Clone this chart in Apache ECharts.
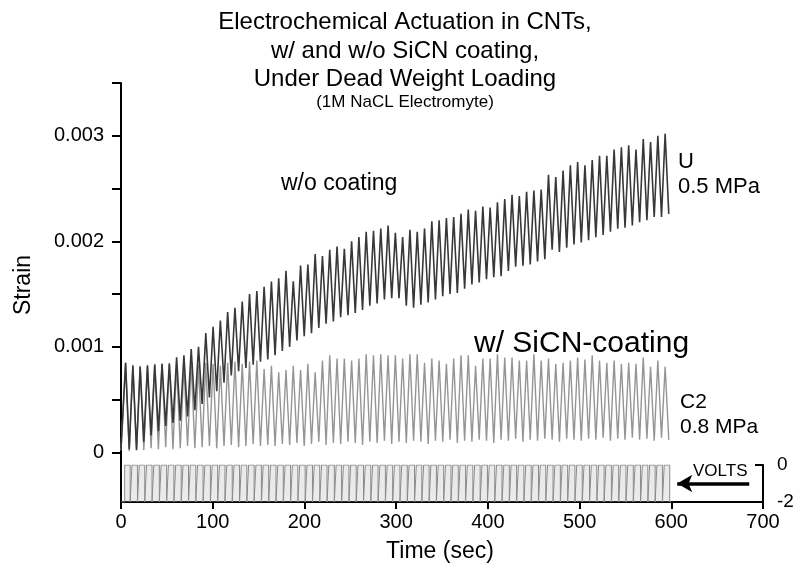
<!DOCTYPE html>
<html>
<head>
<meta charset="utf-8">
<script src="https://cdn.jsdelivr.net/npm/echarts@6/dist/echarts.min.js"></script>
<style>
  html, body { margin: 0; background: #fff; }
  #chart { width: 797px; height: 575px; }
</style>
</head>
<body>
<div id="chart"></div>
<script>
// timing of the actuation cycles (sec)
const period = 7.95;
const firstPeak = 5;
const endTime = 600;

// U, 0.5 MPa (w/o coating): peak and trough strain of each cycle
const uStart = 0.00003;
const uPeak = [
  0.00085, 0.00082, 0.00081, 0.00082, 0.00083, 0.00084, 0.00084, 0.0009, 0.00092, 0.00098,
  0.001, 0.00113, 0.00119, 0.00125, 0.00133, 0.00137, 0.00143, 0.0015, 0.00153, 0.00157,
  0.00162, 0.00165, 0.00172, 0.00162, 0.00177, 0.00178, 0.00188, 0.00186, 0.00192, 0.00195,
  0.00193, 0.002, 0.00204, 0.00209, 0.0021, 0.00212, 0.00215, 0.00208, 0.00204, 0.00211,
  0.00209, 0.00212, 0.00219, 0.0022, 0.00222, 0.00223, 0.00226, 0.0023, 0.00229, 0.00233,
  0.00232, 0.00237, 0.0024, 0.00244, 0.00243, 0.00247, 0.00248, 0.00249, 0.00263, 0.00261,
  0.00267, 0.00272, 0.00275, 0.00272, 0.00277, 0.00281, 0.00281, 0.00287, 0.00289, 0.00291,
  0.00287, 0.00297, 0.00294, 0.003, 0.00302
];
const uTrough = [
  0.00003, 0.00002, 0.0001, 0.00016, 0.0002, 0.00025, 0.00028, 0.0003, 0.00034, 0.0004,
  0.00046, 0.00052, 0.00058, 0.00066, 0.00073, 0.00077, 0.0008, 0.00083, 0.00086, 0.00088,
  0.00092, 0.00096, 0.001, 0.00106, 0.0011, 0.00113, 0.00118, 0.00122, 0.00124, 0.00128,
  0.0013, 0.00132, 0.00135, 0.00139, 0.00141, 0.00145, 0.00146, 0.00146, 0.00139, 0.00137,
  0.0014, 0.00142, 0.00145, 0.00148, 0.0015, 0.00151, 0.00155, 0.00159, 0.00161, 0.00164,
  0.00166, 0.00167, 0.00172, 0.00176, 0.00177, 0.00178, 0.00181, 0.00183, 0.00192, 0.0019,
  0.00194, 0.00197, 0.00199, 0.00201, 0.00204, 0.00206, 0.00209, 0.00212, 0.00213, 0.00215,
  0.00218, 0.0022, 0.00223, 0.00223, 0.00226
];

// C2, 0.8 MPa (w/ SiCN coating)
const c2Start = 0.00002;
const c2Peak = [
  0.00085, 0.00083, 0.00082, 0.00083, 0.00084, 0.00084, 0.00085, 0.00083, 0.00082, 0.00084,
  0.00083, 0.00085, 0.00084, 0.00082, 0.00085, 0.00086, 0.00084, 0.00086, 0.00087, 0.00079,
  0.00082, 0.00076, 0.00078, 0.00082, 0.00078, 0.00084, 0.00076, 0.00087, 0.00092, 0.00089,
  0.00089, 0.00087, 0.00089, 0.00093, 0.00092, 0.00093, 0.00092, 0.00092, 0.00089, 0.00093,
  0.00093, 0.00085, 0.00089, 0.00087, 0.00084, 0.00089, 0.00092, 0.00092, 0.00082, 0.00089,
  0.00089, 0.00093, 0.0009, 0.0009, 0.00087, 0.00087, 0.00093, 0.00087, 0.00089, 0.00084,
  0.00085, 0.00087, 0.0009, 0.00088, 0.00092, 0.00087, 0.00085, 0.00087, 0.00084, 0.00085,
  0.00084, 0.0009, 0.00081, 0.00087, 0.00081
];
const c2Trough = [
  0.00001, 0.00003, 0.00002, 0.00004, 0.00003, 0.00005, 0.00003, 0.00004, 0.00006, 0.00004,
  0.00005, 0.00006, 0.00004, 0.00006, 0.00007, 0.00005, 0.00006, 0.00008, 0.00006, 0.00007,
  0.00006, 0.00008, 0.00007, 0.00009, 0.00006, 0.00008, 0.0001, 0.00007, 0.00009, 0.00008,
  0.0001, 0.00009, 0.00007, 0.0001, 0.00009, 0.00011, 0.00008, 0.0001, 0.00009, 0.00011,
  0.0001, 0.00008, 0.00011, 0.0001, 0.00012, 0.00009, 0.00011, 0.0001, 0.00012, 0.00011,
  0.00009, 0.00012, 0.00011, 0.00013, 0.0001, 0.00012, 0.00011, 0.00013, 0.00012, 0.0001,
  0.00013, 0.00012, 0.00011, 0.00013, 0.00012, 0.00014, 0.00011, 0.00013, 0.00012, 0.00014,
  0.00012, 0.00013, 0.00011, 0.00014, 0.00012
];

// applied voltage levels (V) and on-time in each cycle (sec)
const voltsOn = 0;
const voltsOff = -2;
const onTime = 6;

// axis ticks
const strainTicks = [0, 0.0005, 0.001, 0.0015, 0.002, 0.0025, 0.003, 0.0035];
const strainLabels = [0, 0.001, 0.002, 0.003];

// build the traces (peak, then the trough half a cycle later)
function cycleLine(start, peaks, troughs) {
  const pts = [[0, start]];
  peaks.forEach((p, k) => {
    const tp = firstPeak + k * period;
    pts.push([tp, p]);
    pts.push([Math.min(tp + period / 2, endTime), troughs[k]]);
  });
  return pts;
}
const uLine = cycleLine(uStart, uPeak, uTrough);
const c2Line = cycleLine(c2Start, c2Peak, c2Trough);

const voltLine = [[0, voltsOff]];
uPeak.forEach((p, k) => {
  const t0 = firstPeak - 1 + k * period;
  voltLine.push([t0, voltsOff], [t0, voltsOn], [t0 + onTime, voltsOn], [t0 + onTime, voltsOff]);
});
voltLine.push([endTime, voltsOff]);

const font = '"Liberation Sans", Arial, Helvetica, sans-serif';
function txt(text, x, y, size, align, extra) {
  return Object.assign({
    type: 'text', x: x, y: y, silent: true,
    style: {
      text: text, font: size + 'px ' + font, fill: '#000',
      textAlign: align, align: align,
      textVerticalAlign: 'middle', verticalAlign: 'middle'
    }
  }, extra || {});
}

const myChart = echarts.init(document.getElementById('chart'));
const option = {
  animation: false,
  backgroundColor: '#fff',
  grid: [
    { left: 121, right: 34, top: 83, bottom: 73 },
    { left: 121, right: 34, top: 465, bottom: 73 }
  ],
  xAxis: [
    { gridIndex: 0, type: 'value', min: 0, max: 700, show: false },
    {
      gridIndex: 1, type: 'value', min: 0, max: 700, interval: 100,
      axisLine: { onZero: false, lineStyle: { color: '#000', width: 2 } },
      axisTick: { length: 7, lineStyle: { color: '#000', width: 2 } },
      axisLabel: { color: '#000', fontSize: 20, fontFamily: font, margin: 10 },
      splitLine: { show: false }
    }
  ],
  yAxis: [
    {
      gridIndex: 0, type: 'value', min: -0.00047, max: 0.0035,
      axisLine: { show: true, onZero: false, lineStyle: { color: '#000', width: 2 } },
      axisTick: { show: true, length: 9, customValues: strainTicks, lineStyle: { color: '#000', width: 2 } },
      axisLabel: { color: '#000', fontSize: 20, fontFamily: font, margin: 17, customValues: strainLabels },
      splitLine: { show: false }
    },
    {
      gridIndex: 1, type: 'value', position: 'right', min: -2, max: 0, interval: 2,
      axisLine: { show: true, onZero: false, lineStyle: { color: '#000', width: 2 } },
      axisTick: { show: true, inside: true, length: 8, lineStyle: { color: '#000', width: 2 } },
      axisLabel: { color: '#000', fontSize: 19, fontFamily: font, margin: 14 },
      splitLine: { show: false }
    }
  ],
  series: [
    {
      name: 'C2 0.8 MPa', type: 'line', xAxisIndex: 0, yAxisIndex: 0,
      data: c2Line, showSymbol: false, silent: true,
      lineStyle: { color: '#959595', width: 1.4 }
    },
    {
      name: 'U 0.5 MPa', type: 'line', xAxisIndex: 0, yAxisIndex: 0,
      data: uLine, showSymbol: false, silent: true,
      lineStyle: { color: '#383838', width: 1.6 }
    },
    {
      name: 'VOLTS', type: 'line', xAxisIndex: 1, yAxisIndex: 1,
      data: voltLine, showSymbol: false, silent: true,
      lineStyle: { color: '#8a8a8a', width: 1 },
      areaStyle: { origin: 'start', color: 'rgba(170,170,170,0.35)' },
      markLine: {
        silent: true, symbol: ['arrow', 'none'], symbolSize: [13, 15],
        lineStyle: { color: '#000', width: 3.5, type: 'solid' },
        label: { show: false },
        data: [[{ coord: [606.5, -1] }, { coord: [685, -1] }]]
      }
    }
  ],
  graphic: [
    txt('Electrochemical Actuation in CNTs,', 405, 22, 24, 'center'),
    txt('w/ and w/o SiCN coating,', 405, 51, 24, 'center'),
    txt('Under Dead Weight Loading', 405, 79, 24, 'center'),
    txt('(1M NaCL Electromyte)', 405, 102, 17, 'center'),
    txt('w/o coating', 281, 184, 23, 'left'),
    txt('w/ SiCN-coating', 474, 344, 30, 'left'),
    txt('U', 678, 162, 22, 'left'),
    txt('0.5 MPa', 678, 187, 22, 'left'),
    txt('C2', 680, 402, 21, 'left'),
    txt('0.8 MPa', 680, 427, 21, 'left'),
    txt('VOLTS', 693, 471, 17, 'left'),
    txt('Strain', 24, 285, 23, 'center', { rotation: Math.PI / 2 }),
    txt('Time (sec)', 440, 552, 23, 'center')
  ]
};
myChart.setOption(option);
</script>
</body>
</html>
